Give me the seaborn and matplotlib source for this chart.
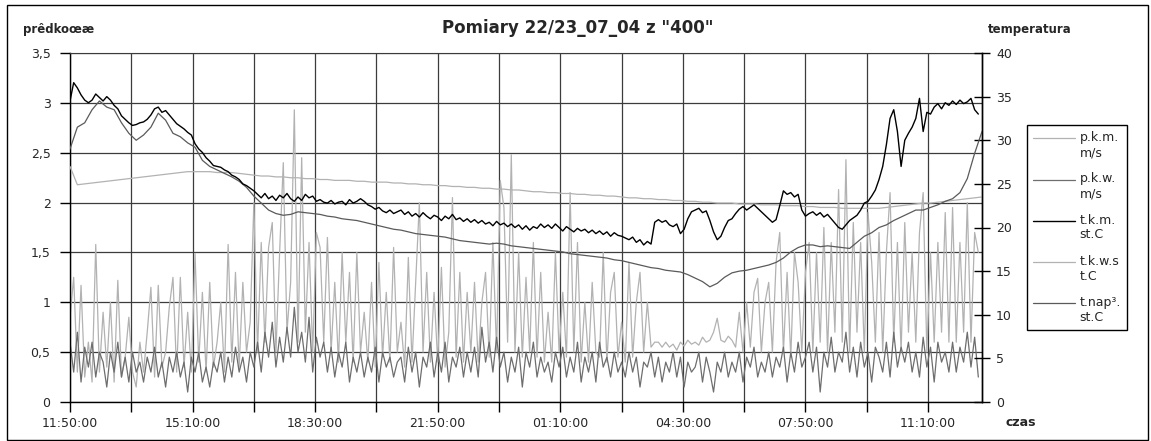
import numpy as np
import matplotlib
matplotlib.use("Agg")
import matplotlib.pyplot as plt
import seaborn as sns
from matplotlib.patches import Rectangle
from matplotlib.legend_handler import HandlerLine2D

sns.set_style("white")
plt.rcParams['font.family'] = ['DejaVu Sans']

# ---------------- data ----------------
STEP_FAST = 6    # minutes between samples of the noisy series
STEP_SLOW = 12   # minutes between samples of the smooth series
X_END = 1488     # minutes from 11:50 to right edge

x_tick_labels = ["11:50:00", "15:10:00", "18:30:00", "21:50:00",
                 "01:10:00", "04:30:00", "07:50:00", "11:10:00"]
left_tick_labels = ["0", "0,5", "1", "1,5", "2", "2,5", "3", "3,5"]
right_tick_labels = ["0", "5", "10", "15", "20", "25", "30", "35", "40"]

series_names = ["p.k.m.\nm/s", "p.k.w.\nm/s", "t.k.m.\nst.C", "t.k.w.s\nt.C", "t.nap³.\nst.C"]

# p.k.m. [m/s] (light grey spikes, left axis)
pkm = [0.85, 1.25, 0.3, 1.17, 0.25, 0.6, 0.2, 1.58, 0.3, 0.9,
       0.35, 1.0, 0.2, 1.22, 0.25, 0.45, 0.85, 0.3, 0.15, 0.6,
       0.3, 0.7, 1.15, 0.25, 1.17, 0.35, 0.5, 0.95, 1.25, 0.3,
       1.25, 0.35, 0.9, 0.3, 1.49, 0.4, 1.1, 0.3, 1.2, 0.35,
       0.6, 1.0, 0.3, 1.58, 0.4, 1.3, 0.35, 1.2, 0.5, 0.8,
       2.0, 0.5, 1.6, 0.6, 1.55, 1.8, 0.5, 1.5, 2.4, 0.7,
       1.2, 2.93, 0.6, 2.45, 0.7, 1.6, 0.5, 1.7, 1.55, 0.6,
       1.65, 0.5, 1.2, 0.4, 1.5, 0.6, 1.3, 0.4, 1.5, 0.5,
       0.9, 0.4, 1.2, 0.35, 1.4, 0.45, 1.1, 0.4, 1.55, 0.5,
       0.8, 0.35, 1.45, 0.4, 1.2, 2.0, 0.5, 1.3, 0.4, 1.1,
       0.4, 1.35, 0.35, 0.7, 2.05, 0.45, 1.3, 0.4, 1.1, 0.5,
       1.2, 0.4, 1.0, 1.3, 0.45, 1.6, 0.5, 2.22, 1.95, 0.6,
       2.48, 0.5, 1.5, 0.45, 1.25, 0.5, 1.6, 0.45, 1.3, 0.4,
       0.9, 0.4, 1.5, 0.5, 1.1, 0.45, 2.1, 0.5, 1.6, 0.4,
       1.0, 0.4, 1.2, 0.5, 0.45, 1.5, 0.4, 1.1, 1.3, 0.45,
       0.8, 0.4, 1.4, 0.45, 1.0, 1.3, 0.5, 1.0, 0.55, 0.6,
       0.6, 0.55, 0.6, 0.55, 0.58, 0.52, 0.6, 0.56, 0.62, 0.58,
       0.6, 0.57, 0.65, 0.6, 0.62, 0.7, 0.84, 0.62, 0.6, 0.66,
       0.62, 0.55, 0.9, 0.5, 1.0, 0.55, 1.1, 1.24, 0.5, 1.0,
       1.2, 0.5, 1.4, 1.7, 0.5, 1.3, 0.45, 1.5, 1.2, 0.5,
       1.3, 1.6, 0.5, 1.5, 0.6, 1.75, 0.5, 1.6, 0.7, 2.13,
       0.6, 2.43, 0.5, 1.8, 0.7, 1.6, 0.5, 1.9, 1.4, 0.6,
       1.7, 0.5, 1.5, 2.1, 0.6, 1.6, 0.5, 1.8, 0.7, 1.5,
       0.6, 1.7, 2.1, 0.5, 1.5, 0.6, 1.6, 0.7, 1.9, 0.6,
       1.95, 0.6, 1.6, 0.7, 2.0, 0.6, 1.7, 1.5]

# p.k.w. [m/s] (dark grey noise, left axis)
pkw = [0.6, 0.3, 0.7, 0.2, 0.55, 0.35, 0.6, 0.25, 0.5, 0.4,
       0.15, 0.5, 0.3, 0.6, 0.25, 0.45, 0.2, 0.5, 0.3, 0.4,
       0.2, 0.45, 0.3, 0.55, 0.25, 0.4, 0.15, 0.45, 0.3, 0.5,
       0.25, 0.4, 0.1, 0.45, 0.3, 0.5, 0.2, 0.35, 0.15, 0.4,
       0.3, 0.5, 0.2, 0.45, 0.25, 0.55, 0.3, 0.45, 0.2, 0.5,
       0.35, 0.6, 0.3, 0.7, 0.45, 0.8, 0.35, 0.65, 0.4, 0.75,
       0.45, 0.95, 0.5, 0.7, 0.4, 0.85, 0.3, 0.65, 0.45, 0.6,
       0.3, 0.55, 0.25, 0.5, 0.35, 0.6, 0.2, 0.45, 0.3, 0.5,
       0.25, 0.45, 0.3, 0.55, 0.2, 0.5, 0.35, 0.45, 0.25, 0.4,
       0.45, 0.2, 0.55, 0.3, 0.5, 0.15, 0.45, 0.35, 0.6, 0.25,
       0.5, 0.3, 0.6, 0.2, 0.45, 0.35, 0.55, 0.25, 0.5, 0.3,
       0.55, 0.25, 0.75, 0.4, 0.6, 0.3, 0.65, 0.35, 0.5, 0.2,
       0.45, 0.3, 0.55, 0.15, 0.5, 0.35, 0.6, 0.25, 0.45, 0.3,
       0.4, 0.2, 0.5, 0.35, 0.55, 0.25, 0.45, 0.3, 0.6, 0.2,
       0.45, 0.3, 0.5, 0.2, 0.6, 0.35, 0.45, 0.25, 0.5, 0.3,
       0.4, 0.25, 0.5, 0.3, 0.45, 0.15, 0.4, 0.35, 0.5, 0.25,
       0.45, 0.2, 0.4, 0.3, 0.5, 0.25, 0.45, 0.15, 0.4, 0.3,
       0.35, 0.5, 0.2, 0.45, 0.3, 0.1, 0.4, 0.3, 0.5, 0.25,
       0.4, 0.3, 0.5, 0.2, 0.45, 0.35, 0.55, 0.25, 0.4, 0.3,
       0.5, 0.25, 0.45, 0.35, 0.55, 0.2, 0.5, 0.3, 0.6, 0.35,
       0.45, 0.6, 0.3, 0.55, 0.1, 0.5, 0.35, 0.65, 0.3, 0.5,
       0.4, 0.7, 0.3, 0.55, 0.25, 0.6, 0.35, 0.5, 0.2, 0.55,
       0.45, 0.3, 0.6, 0.25, 0.7, 0.35, 0.55, 0.4, 0.6, 0.3,
       0.5, 0.25, 0.65, 0.35, 0.55, 0.2, 0.6, 0.4, 0.5, 0.3,
       0.6, 0.3, 0.55, 0.4, 0.7, 0.35, 0.65, 0.25]

# t.k.m. [st.C] (black, right axis)
tkm = [34.5, 36.6, 36.0, 35.2, 34.6, 34.3, 34.6, 35.3, 34.9, 34.5,
       35.0, 34.6, 34.0, 33.6, 32.8, 32.4, 32.0, 31.7, 31.8, 32.0,
       32.1, 32.4, 32.9, 33.6, 33.8, 33.2, 33.4, 32.9, 32.4, 31.9,
       31.6, 31.3, 30.9, 30.6, 29.6, 29.0, 28.6, 28.0, 27.6, 27.1,
       27.0, 26.9, 26.6, 26.4, 26.0, 25.8, 25.5, 25.0, 24.8, 24.5,
       24.2, 23.8, 23.4, 23.9, 23.3, 23.6, 23.1, 23.7, 23.4, 23.9,
       23.3, 23.0, 23.5, 23.1, 23.8, 23.4, 23.6, 23.0, 23.2, 22.9,
       22.8, 23.1, 22.7, 22.9, 23.0, 22.6, 23.2, 22.8, 23.0, 23.3,
       23.0, 22.6, 22.4, 22.1, 22.3, 21.9, 21.7, 22.0, 21.6, 21.8,
       22.0, 21.5, 21.8, 21.3, 21.6, 21.2, 21.7, 21.3, 21.0, 21.4,
       21.2, 20.8, 21.3, 21.0, 21.5, 20.9, 21.1, 20.7, 21.0, 20.6,
       20.9, 20.5, 20.8, 20.4, 20.6, 20.2, 20.7, 20.3, 20.5, 20.1,
       20.4, 20.0, 20.3, 19.8, 20.2, 19.7, 20.1, 19.9, 20.4, 20.0,
       20.3, 19.9, 20.4, 20.0, 19.6, 20.1, 19.8, 19.5, 19.9, 19.6,
       19.8, 19.4, 19.7, 19.3, 19.6, 19.2, 19.5, 19.0, 19.4, 19.1,
       19.0, 18.8, 18.6, 18.9, 18.3, 18.6, 18.0, 18.4, 18.1, 20.6,
       20.9, 20.6, 20.8, 20.3, 20.1, 20.4, 19.3, 19.8, 21.0, 21.8,
       22.0, 22.2, 21.7, 21.9, 20.8, 19.5, 18.6, 19.0, 20.0, 20.8,
       21.0, 21.6, 22.1, 22.4, 22.0, 22.3, 22.6, 22.2, 21.8, 21.4,
       21.0, 20.6, 20.9, 22.5, 24.2, 23.8, 24.0, 23.5, 23.8, 22.0,
       21.3, 21.6, 21.8, 21.4, 21.7, 21.2, 21.5, 21.0, 20.5, 20.0,
       19.8, 20.3, 20.8, 21.1, 21.4, 22.0, 22.8, 23.0, 23.6, 24.3,
       25.5, 27.0, 29.5, 32.5, 33.5, 31.0, 27.0, 30.0, 30.8, 31.5,
       32.5, 34.8, 31.0, 33.2, 33.0, 33.8, 34.2, 33.6, 34.3, 34.0,
       34.5, 34.1, 34.6, 34.2, 34.4, 34.8, 33.5, 33.0]

# t.k.w.s [st.C] (light grey smooth, right axis)
tkws = [27.0, 24.9, 25.0, 25.1, 25.2, 25.3, 25.4, 25.5, 25.6, 25.7,
        25.8, 25.9, 26.0, 26.1, 26.2, 26.3, 26.4, 26.4, 26.4, 26.4,
        26.3, 26.3, 26.3, 26.2, 26.1, 26.0, 25.9, 25.9, 25.8, 25.8,
        25.7, 25.7, 25.6, 25.6, 25.5, 25.5, 25.4, 25.4, 25.4, 25.3,
        25.3, 25.2, 25.2, 25.2, 25.1, 25.1, 25.0, 25.0, 24.9, 24.9,
        24.8, 24.8, 24.7, 24.7, 24.6, 24.6, 24.5, 24.5, 24.4, 24.4,
        24.3, 24.3, 24.2, 24.1, 24.1, 24.0, 24.0, 23.9, 23.9, 23.8,
        23.8, 23.7, 23.7, 23.6, 23.6, 23.5, 23.4, 23.4, 23.3, 23.3,
        23.2, 23.2, 23.1, 23.1, 23.0, 23.0, 22.9, 22.9, 22.8, 22.8,
        22.8, 22.7, 22.7, 22.7, 22.6, 22.6, 22.6, 22.5, 22.5, 22.5,
        22.4, 22.4, 22.3, 22.3, 22.3, 22.2, 22.2, 22.2, 22.2, 22.2,
        22.2, 22.3, 22.4, 22.5, 22.6, 22.7, 22.8, 22.8, 22.9, 23.0,
        23.1, 23.2, 23.3, 23.4, 23.5]

# t.nap³. [st.C] (dark grey, right axis)
tnap = [29.0, 31.5, 32.0, 33.5, 34.5, 33.8, 33.5, 32.0, 30.8, 30.0,
        30.6, 31.5, 33.1, 32.3, 30.8, 30.4, 29.7, 29.2, 27.7, 27.0,
        26.6, 26.2, 25.8, 25.3, 24.6, 23.6, 22.8, 22.0, 21.6, 21.4,
        21.5, 21.8, 21.7, 21.6, 21.5, 21.3, 21.2, 21.0, 20.9, 20.8,
        20.6, 20.4, 20.2, 20.0, 19.8, 19.7, 19.5, 19.3, 19.2, 19.1,
        19.0, 18.9, 18.7, 18.5, 18.4, 18.3, 18.2, 18.1, 18.2, 18.1,
        17.9, 17.8, 17.7, 17.6, 17.5, 17.4, 17.3, 17.2, 17.0, 16.9,
        16.8, 16.7, 16.6, 16.5, 16.3, 16.2, 16.0, 15.8, 15.6, 15.4,
        15.3, 15.1, 15.0, 14.9, 14.6, 14.2, 13.8, 13.2, 13.6, 14.3,
        14.8, 15.0, 15.1, 15.3, 15.5, 15.7, 16.0, 16.5, 17.2, 17.7,
        18.0, 18.0, 17.8, 17.9, 17.8, 17.7, 17.6, 18.3, 19.0, 19.4,
        20.0, 20.3, 20.8, 21.2, 21.6, 22.0, 22.0, 22.3, 22.6, 23.0,
        23.3, 24.0, 25.6, 28.5, 31.0]

t_fast = np.arange(len(pkm)) * STEP_FAST
t_slow = np.arange(len(tnap)) * STEP_SLOW


class FirstLineHandler(HandlerLine2D):
    """Legend line placed level with the first line of a two-line label."""
    def create_artists(self, legend, orig_handle, xdescent, ydescent,
                       width, height, fontsize, trans):
        arts = super().create_artists(legend, orig_handle, xdescent, ydescent,
                                      width, height, fontsize, trans)
        for a in arts:
            a.set_ydata(np.asarray(a.get_ydata()) + 0.6 * fontsize)
        return arts


# ---------------- figure ----------------
W, H = 1151, 441
fig = plt.figure(figsize=(W / 100, H / 100), dpi=100)
fig.patch.set_facecolor("white")
ax = fig.add_axes([70 / W, 1 - 402 / H, 912 / W, 349 / H])
ax2 = ax.twinx()
ax2.patch.set_visible(False)

c_light = "#b2b2b2"
c_mid = "#6e6e6e"
c_dark = "#5a5a5a"
lw = 0.9

sns.lineplot(x=t_fast, y=pkm, ax=ax, color=c_light, lw=lw, label=series_names[0])
sns.lineplot(x=t_fast, y=pkw, ax=ax, color=c_mid, lw=lw, label=series_names[1])
sns.lineplot(x=t_slow, y=tkws, ax=ax2, color=c_light, lw=lw, label=series_names[3])
sns.lineplot(x=t_slow, y=tnap, ax=ax2, color=c_dark, lw=lw, label=series_names[4])
sns.lineplot(x=t_fast, y=tkm, ax=ax2, color="black", lw=1.0, label=series_names[2])

h1, l1 = ax.get_legend_handles_labels()
h2, l2 = ax2.get_legend_handles_labels()
for a in (ax, ax2):
    if a.get_legend() is not None:
        a.get_legend().remove()
hmap = dict(zip(l1 + l2, h1 + h2))

# axes
ax.set_xlim(0, X_END)
ax.set_ylim(0, 3.5)
ax2.set_ylim(0, 40)
xt = np.arange(0, X_END, 100)
ax.set_xticks(xt)
ax.set_xticklabels([x_tick_labels[i // 2] if i % 2 == 0 else "" for i in range(len(xt))])
ax.set_yticks(np.arange(0, 3.51, 0.5))
ax.set_yticklabels(left_tick_labels)
ax2.set_yticks(np.arange(0, 41, 5))
ax2.set_yticklabels(right_tick_labels)
ax.set_xlabel("")
ax.set_ylabel("")
ax2.set_ylabel("")

ax.grid(True, color="#3c3c3c", lw=0.9)
ax.set_axisbelow(True)
ax2.grid(False)

ax.tick_params(axis="x", direction="out", length=7, width=1, color="black",
               labelsize=9, pad=4, bottom=True)
ax.tick_params(axis="y", direction="out", length=7, width=1, color="black",
               labelsize=9, pad=7, left=True)
ax2.tick_params(axis="y", direction="inout", length=12, width=1, color="black",
                labelsize=9, pad=4, right=True)

for s in ("left", "bottom", "right"):
    ax.spines[s].set_color("black")
    ax.spines[s].set_linewidth(1)
ax.spines["top"].set_color("#3c3c3c")
ax2.spines["right"].set_color("black")
ax2.spines["right"].set_linewidth(1)
for s in ("left", "bottom", "top"):
    ax2.spines[s].set_visible(False)

# texts
fig.text(578 / W, 1 - 28 / H, 'Pomiary 22/23_07_04 z "400"', ha="center", va="center",
         fontsize=12, fontweight="bold")
fig.text(23 / W, 1 - 29 / H, "prêdkoœæ", ha="left", va="center", fontsize=8.5, fontweight="bold")
fig.text(988 / W, 1 - 29 / H, "temperatura", ha="left", va="center", fontsize=8.5, fontweight="bold")
fig.text(1006 / W, 1 - 423 / H, "czas", ha="left", va="center", fontsize=9, fontweight="bold")

# legend
handles = [hmap[n] for n in series_names]
fig.legend(handles, series_names, loc="upper left",
           bbox_to_anchor=(1027 / W, 1 - 125 / H), bbox_transform=fig.transFigure,
           frameon=True, fancybox=False, edgecolor="black", fontsize=9,
           handlelength=3.3, handletextpad=0.4, borderaxespad=0, borderpad=0.5,
           labelspacing=1.05, framealpha=1,
           handler_map={h: FirstLineHandler() for h in handles})

# outer frame
fig.add_artist(Rectangle((7 / W, 1 / H), 1141 / W, 435 / H, transform=fig.transFigure,
                         fill=False, ec="black", lw=1))

fig.savefig("out.png", dpi=100)
